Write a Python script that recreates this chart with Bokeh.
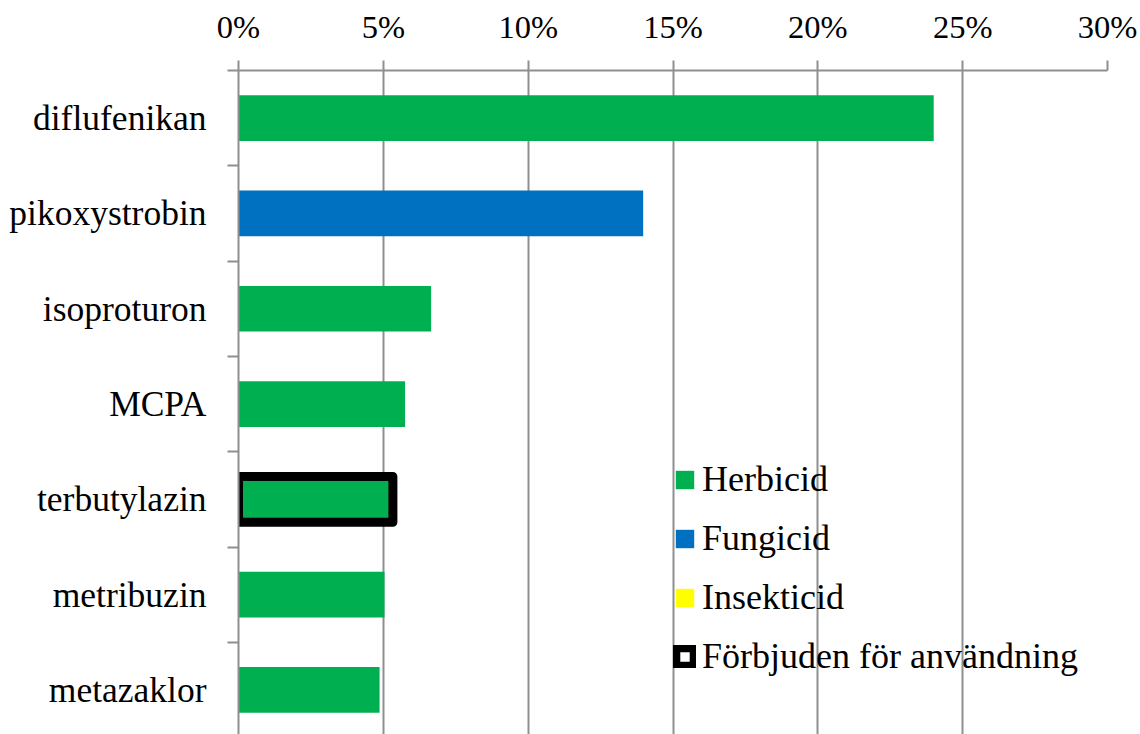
from bokeh.plotting import figure
from bokeh.models import (Range1d, FixedTicker, NumeralTickFormatter, ColumnDataSource,
                          Legend, LegendItem)
from bokeh.embed import file_html
from bokeh.resources import INLINE

# ---- data ----
substances = ["diflufenikan", "pikoxystrobin", "isoproturon", "MCPA",
              "terbutylazin", "metribuzin", "metazaklor"]
shares = [0.240, 0.1397, 0.0665, 0.0575, 0.0533, 0.0504, 0.0487]
types = ["Herbicid", "Fungicid", "Herbicid", "Herbicid", "Herbicid", "Herbicid", "Herbicid"]
banned = [False, False, False, False, True, False, False]
type_names = ["Herbicid", "Fungicid", "Insekticid"]
type_colors = ["#00B050", "#0070C0", "#FFFF00"]
banned_label = "Förbjuden för användning"
x_ticks = [0.0, 0.05, 0.10, 0.15, 0.20, 0.25, 0.30]

FONT = "Liberation Serif"
GRAY = "#8f8f8f"

n = len(substances)
ypos = [n - i - 0.5 for i in range(n)]          # category centres, top first
bounds = list(range(n + 1))                      # category boundaries

W, H = 1140, 734
TOP, LEFT, RIGHT = 70, 238, 33
BAND_PX = 95.3
visible_bands = (H - TOP) / BAND_PX

p = figure(width=W, height=H,
           x_range=Range1d(x_ticks[0], x_ticks[-1]),
           y_range=Range1d(n - visible_bands, n),
           x_axis_location="above",
           output_backend="svg", toolbar_location=None,
           min_border_left=LEFT, min_border_right=RIGHT,
           min_border_top=TOP, min_border_bottom=0,
           outline_line_color=None, background_fill_color="white")

BAR_H = 0.48
renderers = {}
for tname, col in zip(type_names, type_colors):
    idx = [i for i, t in enumerate(types) if t == tname]
    ys = [ypos[i] for i in idx] or [float("nan")]
    rs = [shares[i] for i in idx] or [float("nan")]
    src = ColumnDataSource(dict(y=ys, right=rs))
    renderers[tname] = p.hbar(y="y", left=0, right="right", height=BAR_H, source=src,
                              fill_color=col, line_color=None)

bidx = [i for i, b in enumerate(banned) if b]
bsrc = ColumnDataSource(dict(y=[ypos[i] for i in bidx], right=[shares[i] for i in bidx]))
rb = p.hbar(y="y", left=0, right="right", height=BAR_H, source=bsrc,
            fill_color="white", fill_alpha=0, line_color="black", line_width=9,
            line_join="round")

# ---- x axis (top) ----
xa = p.xaxis[0]
xa.ticker = FixedTicker(ticks=x_ticks)
xa.formatter = NumeralTickFormatter(format="0%")
xa.axis_line_color = GRAY
xa.axis_line_width = 2
xa.major_tick_line_color = GRAY
xa.major_tick_line_width = 2
xa.major_tick_out = 10
xa.major_tick_in = 0
xa.minor_tick_line_color = None
xa.minor_tick_out = 0
xa.major_label_text_font = FONT
xa.major_label_text_font_size = "32.5px"
xa.major_label_text_color = "black"
xa.major_label_standoff = 16

p.xgrid.ticker = FixedTicker(ticks=x_ticks)
p.xgrid.grid_line_color = GRAY
p.xgrid.grid_line_width = 2
p.ygrid.grid_line_color = None

# ---- y axis (categories) ----
ya = p.yaxis[0]
ya.ticker = FixedTicker(ticks=ypos, minor_ticks=bounds)
ya.major_label_overrides = {y: s for y, s in zip(ypos, substances)}
ya.axis_line_color = GRAY
ya.axis_line_width = 2
ya.major_tick_line_color = None
ya.major_tick_out = 0
ya.major_tick_in = 0
ya.minor_tick_line_color = GRAY
ya.minor_tick_line_width = 2
ya.minor_tick_out = 11
ya.minor_tick_in = 0
ya.major_label_text_font = FONT
ya.major_label_text_font_size = "35.5px"
ya.major_label_text_color = "black"
ya.major_label_standoff = 21

# ---- legend ----
items = [LegendItem(label=t, renderers=[renderers[t]]) for t in type_names]
items.append(LegendItem(label=banned_label, renderers=[rb]))
legend = Legend(items=items, location=(435, 57), orientation="vertical",
                glyph_width=23, glyph_height=23, label_standoff=6,
                label_height=23, spacing=17, padding=0, margin=0,
                border_line_color=None, background_fill_alpha=0,
                label_text_font=FONT, label_text_font_size="36px",
                label_text_color="black")
p.add_layout(legend)

open("out.html", "w").write(file_html(p, INLINE))
